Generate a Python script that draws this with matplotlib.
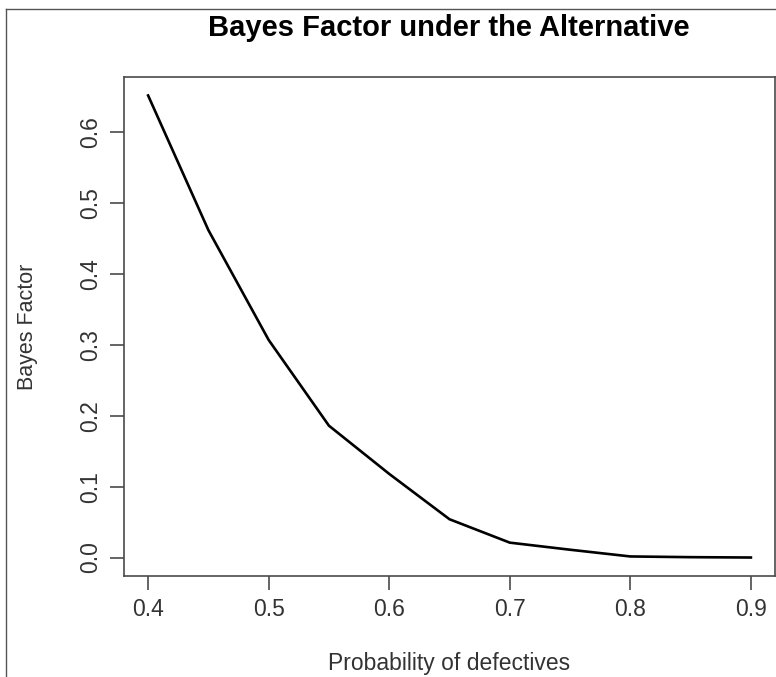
import matplotlib
matplotlib.use("Agg")
import matplotlib.pyplot as plt
from matplotlib.lines import Line2D

# values (Bayes factor vs probability of defectives)
prob_defective = [0.40, 0.45, 0.50, 0.55, 0.60, 0.65, 0.70, 0.75, 0.80, 0.85, 0.90]
bayes_factor = [0.652, 0.462, 0.307, 0.186, 0.118, 0.054, 0.021, 0.011, 0.0015, 0.0005, 0.0]
x_ticks = [0.4, 0.5, 0.6, 0.7, 0.8, 0.9]
y_ticks = [0.0, 0.1, 0.2, 0.3, 0.4, 0.5, 0.6]

plt.rcParams["font.family"] = ["Liberation Sans", "DejaVu Sans"]

W, H = 776, 677
fig = plt.figure(figsize=(W / 100, H / 100), dpi=100)
ax = fig.add_axes([124 / W, 1 - 576 / H, (775 - 124) / W, (576 - 77) / H])

ax.plot(prob_defective, bayes_factor, color="black", lw=1.9, solid_joinstyle="round")

# R style 4% padding around the data range
x0, x1 = min(prob_defective), max(prob_defective)
y0, y1 = min(bayes_factor), max(bayes_factor)
ax.set_xlim(x0 - 0.04 * (x1 - x0), x1 + 0.04 * (x1 - x0))
ax.set_ylim(y0 - 0.04 * (y1 - y0), y1 + 0.04 * (y1 - y0))

ax.set_xticks(x_ticks)
ax.set_xticklabels([f"{v:.1f}" for v in x_ticks])
ax.set_yticks(y_ticks)
ax.set_yticklabels([f"{v:.1f}" for v in y_ticks], rotation=90, va="center")

spine_col = "#4a4a4a"
for sp in ax.spines.values():
    sp.set_color(spine_col)
    sp.set_linewidth(1.2)
ax.tick_params(axis="both", direction="out", length=10, width=1.2, color=spine_col,
               labelsize=16.5, labelcolor="#333333")
ax.tick_params(axis="x", pad=6)
ax.tick_params(axis="y", pad=6)

ax.set_xlabel("Probability of defectives", fontsize=16.5, color="#333333", labelpad=22)
ax.set_ylabel("Bayes Factor", fontsize=15.5, color="#333333", labelpad=29)
fig.text(449 / W, 1 - 28 / H, "Bayes Factor under the Alternative", fontsize=21,
         fontweight="bold", ha="center", va="center", color="black")

# outer frame of the original device, only left and top edges visible
fig.add_artist(Line2D([6 / W, 6 / W], [0, 1 - 9 / H], transform=fig.transFigure,
                      color="#555555", lw=1.0))
fig.add_artist(Line2D([6 / W, 1], [1 - 9 / H, 1 - 9 / H], transform=fig.transFigure,
                      color="#555555", lw=1.0))

fig.savefig("out.png", dpi=100)
